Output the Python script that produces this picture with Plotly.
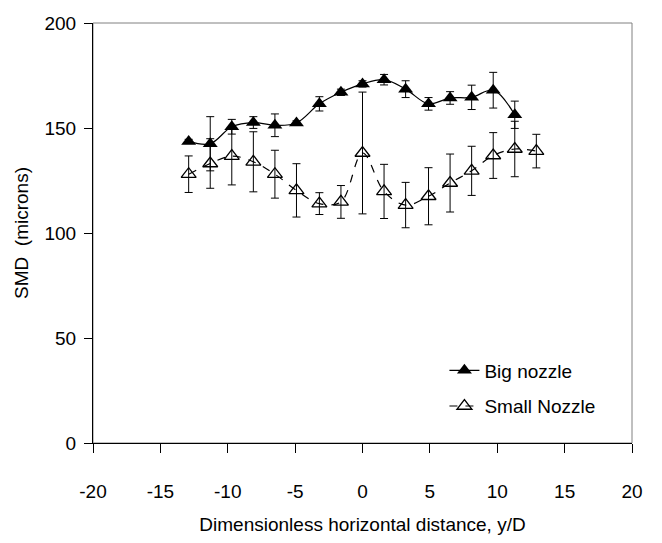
import plotly.graph_objects as go

# ---- data ----
x_big = [-12.9, -11.3, -9.7, -8.1, -6.5, -4.9, -3.2, -1.6, 0.0, 1.6, 3.2, 4.9, 6.5, 8.1, 9.7, 11.3]
smd_big = [143.6, 142.5, 150.6, 152.6, 151.3, 152.4, 161.5, 167.0, 171.0, 173.0, 168.5, 161.5, 164.3, 164.6, 168.0, 156.3]
err_big = [1.0, 12.9, 3.5, 2.8, 5.4, 1.0, 3.4, 1.5, 1.5, 2.5, 4.0, 3.0, 3.0, 5.8, 8.5, 6.5]

x_small = [-12.9, -11.3, -9.7, -8.1, -6.5, -4.9, -3.2, -1.6, 0.0, 1.6, 3.2, 4.9, 6.5, 8.1, 9.7, 11.3, 12.9]
smd_small = [128.0, 133.1, 136.6, 133.9, 128.0, 120.3, 114.0, 114.8, 138.1, 119.8, 113.3, 117.5, 123.8, 129.6, 136.9, 140.0, 139.0]
err_small = [8.7, 11.8, 13.7, 14.3, 11.4, 12.7, 5.2, 7.8, 29.0, 12.9, 10.8, 13.6, 13.8, 11.7, 10.9, 13.2, 8.0]

x_ticks = [-20, -15, -10, -5, 0, 5, 10, 15, 20]
y_ticks = [0, 50, 100, 150, 200]

FONT = "Liberation Sans, Arial, sans-serif"

fig = go.Figure()

fig.add_trace(go.Scatter(
    x=x_big, y=smd_big, name="Big nozzle", mode="lines+markers",
    line=dict(color="black", width=1.2, shape="spline", smoothing=1.0),
    marker=dict(symbol="triangle-up", size=13, color="black"),
    error_y=dict(type="data", array=err_big, visible=True, color="black", thickness=1, width=4),
    legendgroup="a",
))

fig.add_trace(go.Scatter(
    x=x_small, y=smd_small, name="Small Nozzle", mode="lines+markers",
    line=dict(color="black", width=1.2, shape="spline", smoothing=1.0, dash="8px,8px"),
    marker=dict(symbol="triangle-up-open", size=13, color="black", line=dict(width=1.3, color="black")),
    error_y=dict(type="data", array=err_small, visible=True, color="black", thickness=1, width=4),
    legendgroup="b",
))

# gray top/right frame of the plot area
fig.add_shape(type="rect", xref="paper", yref="paper", x0=0, y0=0, x1=1, y1=1,
              line=dict(color="#808080", width=1), layer="below")

fig.update_layout(
    width=662, height=543, autosize=False,
    margin=dict(l=93, r=30, t=23, b=92),
    paper_bgcolor="white", plot_bgcolor="white",
    font=dict(family=FONT, size=19, color="black"),
    showlegend=True,
    legend=dict(x=0.652, y=0.218, xanchor="left", yanchor="top",
                bgcolor="rgba(0,0,0,0)", borderwidth=0,
                traceorder="grouped", tracegroupgap=8,
                font=dict(family=FONT, size=19, color="black")),
)

fig.update_xaxes(
    range=[-20, 20], tickvals=x_ticks, ticktext=[str(v) for v in x_ticks],
    showgrid=False, zeroline=False,
    showline=True, linecolor="black", linewidth=1,
    ticks="outside", ticklen=9, tickcolor="black", tickwidth=1,
    ticklabelstandoff=22,
    title=dict(text="Dimensionless horizontal distance, y/D", standoff=16,
               font=dict(family=FONT, size=19)),
)
fig.update_yaxes(
    range=[0, 200], tickvals=y_ticks, ticktext=[str(v) for v in y_ticks],
    showgrid=False, zeroline=False,
    showline=True, linecolor="black", linewidth=1,
    ticks="outside", ticklen=8, tickcolor="black", tickwidth=1,
    ticklabelstandoff=4,
    title=dict(text="SMD  (microns)", standoff=10, font=dict(family=FONT, size=19)),
)

fig.write_html("out.html")
